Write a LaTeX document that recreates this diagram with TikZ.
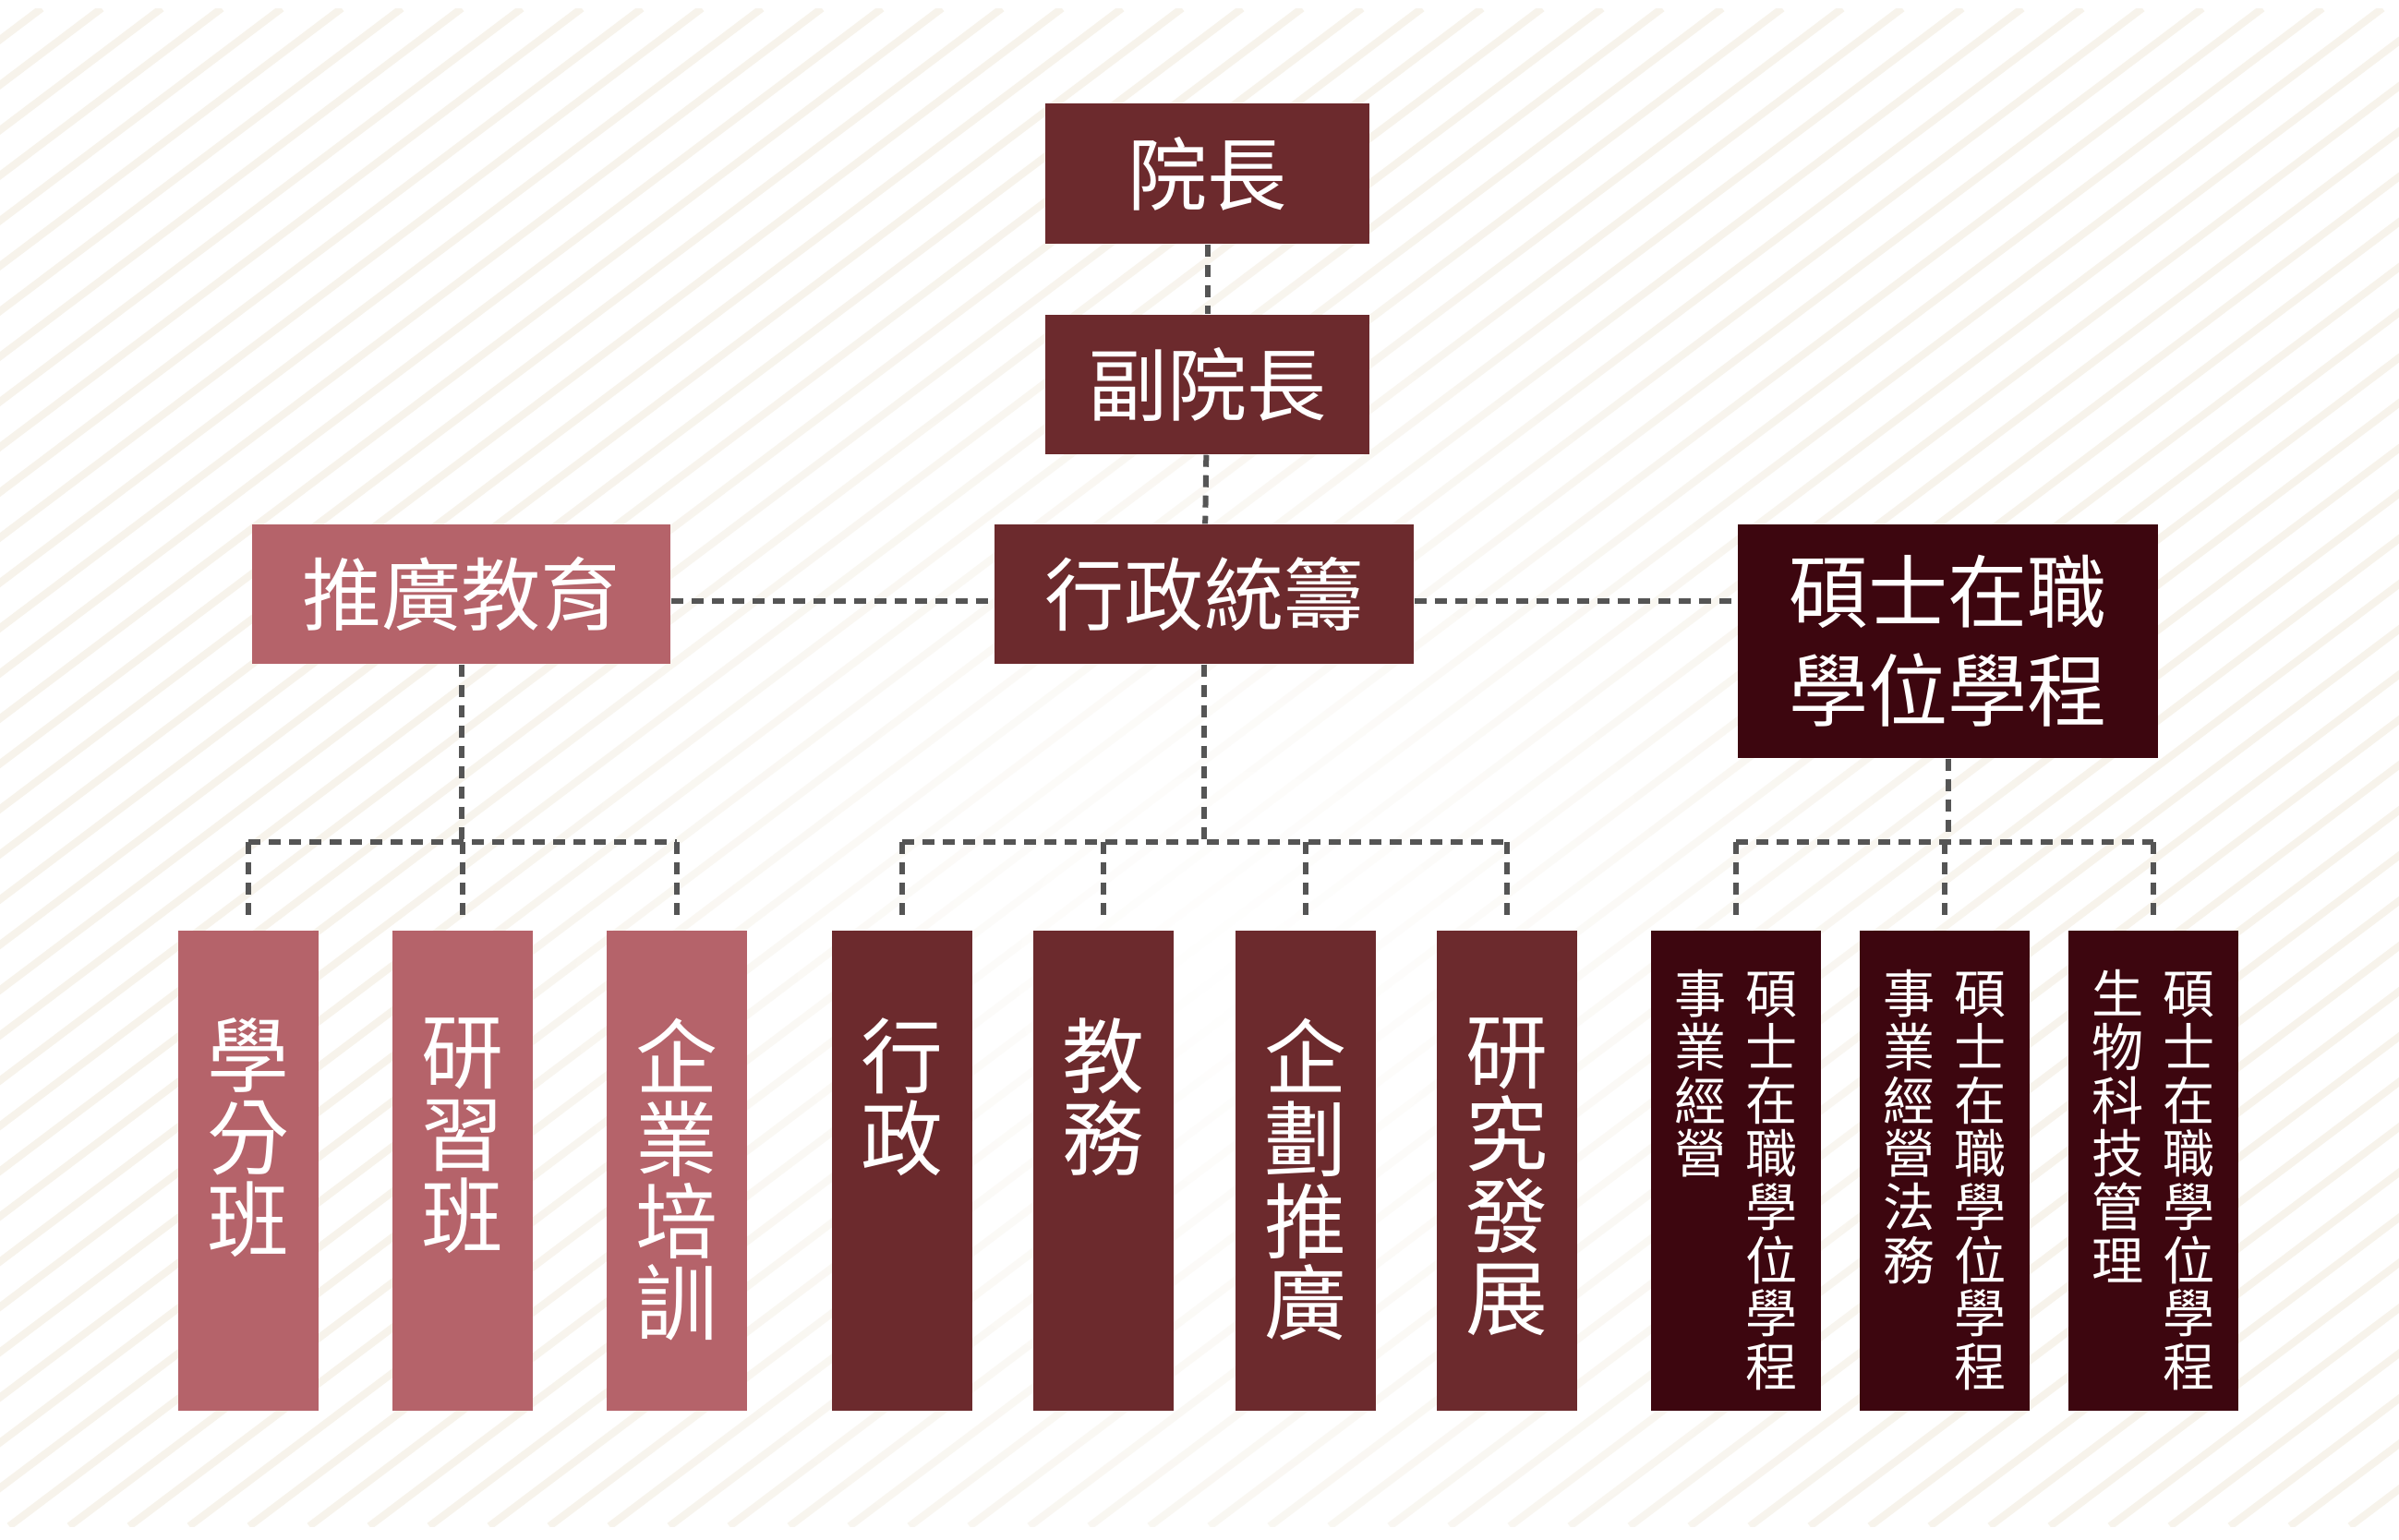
\documentclass[tikz,border=0pt]{standalone}
\usepackage{fontspec}
\setmainfont{Noto Sans CJK TC}
\usetikzlibrary{fadings}
\definecolor{deanred}{RGB}{108,42,45}
\definecolor{extpink}{RGB}{181,99,106}
\definecolor{embared}{RGB}{61,6,15}
\definecolor{linkgray}{RGB}{85,85,85}
\definecolor{stripe}{RGB}{247,243,235}
\tikzfading[name=midfade, inner color=transparent!0, outer color=transparent!100]
\newcommand{\colstack}[2]{\parbox[t][5.2cm][t]{#1}{\centering\vspace*{0.95cm}#2}}
\newcommand{\twocol}[2]{\parbox[t][5.2cm][t]{1.84cm}{\centering\vspace*{0.43cm}%
\parbox[t]{0.6cm}{\centering #1}\hspace{0.17cm}\parbox[t]{0.6cm}{\centering #2}}}
\tikzset{
  headbox/.style={fill=#1, text=white, inner sep=0pt, align=center,
    font=\fontsize{24.5}{30.5}\selectfont},
  unitbox/.style={fill=#1, text=white, inner sep=0pt, anchor=north,
    font=\fontsize{25.3}{25.3}\selectfont},
  smalltext/.style={font=\fontsize{16}{16.4}\selectfont},
  link/.style={draw=linkgray, line width=0.06cm, dash pattern=on 0.13cm off 0.09cm},
}
\begin{document}
\begin{tikzpicture}[x=1cm,y=-1cm]
\useasboundingbox (0,0) rectangle (25.98,16.67);
% background
\fill[white] (0,0) rectangle (25.98,16.67);
\begin{scope}
\clip (0,0.09) rectangle (25.98,16.53);
\foreach \s in {-22,-21.35,...,26}
  \draw[stripe, line width=0.08cm] (\s,16.53) -- ++(21.8,-16.44);
\end{scope}
\fill[white, path fading=midfade] (13.4,10.6) ellipse (9.5 and 9);
%
\node[headbox=deanred, minimum width=3.51cm, minimum height=1.52cm] (dean) at (13.075,1.88) {院長};
\node[headbox=deanred, minimum width=3.51cm, minimum height=1.51cm] (vicedean) at (13.075,4.165) {副院長};
\node[headbox=deanred, minimum width=4.54cm, minimum height=1.51cm] (admin) at (13.04,6.435) {行政統籌};
\node[headbox=extpink, minimum width=4.53cm, minimum height=1.51cm] (extedu) at (4.995,6.435) {推廣教育};
\node[headbox=embared, minimum width=4.55cm, minimum height=2.53cm] (emba) at (21.095,6.945) {碩士在職\\學位學程};
%
\node[unitbox=extpink] (credit) at (2.69,10.07) {\colstack{1.52cm}{學\\分\\班}};
\node[unitbox=extpink] (workshop) at (5.01,10.07) {\colstack{1.52cm}{研\\習\\班}};
\node[unitbox=extpink] (corptrain) at (7.33,10.07) {\colstack{1.52cm}{企\\業\\培\\訓}};
\node[unitbox=deanred] (adminsec) at (9.77,10.07) {\colstack{1.52cm}{行\\政}};
\node[unitbox=deanred] (academic) at (11.95,10.07) {\colstack{1.52cm}{教\\務}};
\node[unitbox=deanred] (planning) at (14.14,10.07) {\colstack{1.52cm}{企\\劃\\推\\廣}};
\node[unitbox=deanred] (research) at (16.32,10.07) {\colstack{1.52cm}{研\\究\\發\\展}};
\node[unitbox=embared, smalltext] (bizmgmt) at (18.80,10.07) {\twocol{事\\業\\經\\營}{碩\\士\\在\\職\\學\\位\\學\\程}};
\node[unitbox=embared, smalltext] (bizlaw) at (21.06,10.07) {\twocol{事\\業\\經\\營\\法\\務}{碩\\士\\在\\職\\學\\位\\學\\程}};
\node[unitbox=embared, smalltext] (biotech) at (23.32,10.07) {\twocol{生\\物\\科\\技\\管\\理}{碩\\士\\在\\職\\學\\位\\學\\程}};
%
\draw[link] (dean) -- (vicedean);
\draw[link] (vicedean) -- (admin);
\draw[link] ([yshift=-0.07cm]extedu.east) -- ([yshift=-0.07cm]admin.west);
\draw[link] ([yshift=-0.07cm]admin.east) -- ([yshift=-0.07cm]admin.east -| emba.west);
\coordinate (bus) at (0,9.12);
% extension education
\draw[link] (extedu) -- (extedu |- bus);
\draw[link] (credit |- bus) -- (corptrain |- bus);
\draw[link, shorten >=0.15cm] (credit |- bus) -- (credit);
\draw[link, shorten >=0.15cm] (workshop |- bus) -- (workshop);
\draw[link, shorten >=0.15cm] (corptrain |- bus) -- (corptrain);
% administration
\draw[link] (admin) -- (admin |- bus);
\draw[link] (adminsec |- bus) -- (research |- bus);
\draw[link, shorten >=0.15cm] (adminsec |- bus) -- (adminsec);
\draw[link, shorten >=0.15cm] (academic |- bus) -- (academic);
\draw[link, shorten >=0.15cm] (planning |- bus) -- (planning);
\draw[link, shorten >=0.15cm] (research |- bus) -- (research);
% master programmes
\draw[link] (emba) -- (emba |- bus);
\draw[link] (bizmgmt |- bus) -- (biotech |- bus);
\draw[link, shorten >=0.15cm] (bizmgmt |- bus) -- (bizmgmt);
\draw[link, shorten >=0.15cm] (bizlaw |- bus) -- (bizlaw);
\draw[link, shorten >=0.15cm] (biotech |- bus) -- (biotech);
\end{tikzpicture}
\end{document}
